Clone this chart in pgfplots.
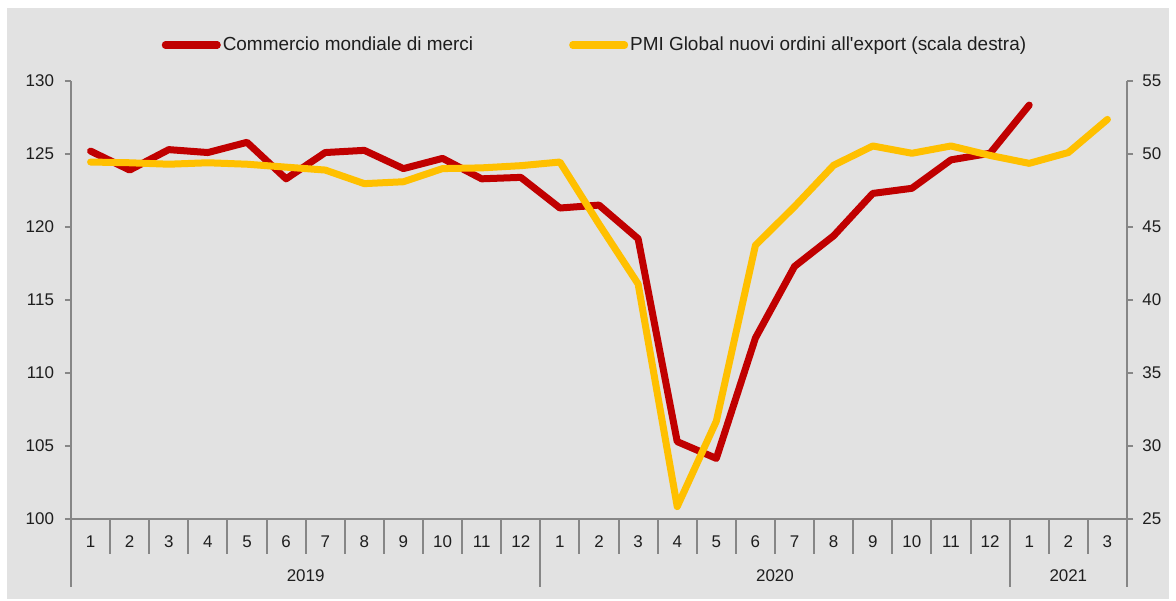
\documentclass[border=0pt]{standalone}
\usepackage{pgfplots}
\pgfplotsset{compat=1.18}
\usepackage{fontspec}
\setmainfont{Liberation Sans}
\definecolor{bg}{HTML}{E2E2E2}
\definecolor{axg}{HTML}{868686}
\definecolor{myred}{HTML}{C00000}
\definecolor{myyel}{HTML}{FFC000}
\definecolor{txt}{HTML}{1E1E1E}
\begin{document}
\begin{tikzpicture}
\fill[white] (-35.5bp,-41bp) rectangle (552.5bp,259.5bp);
\fill[bg] (-32bp,-40bp) rectangle (549bp,255.5bp);
\pgfplotsset{
  common/.style={
    scale only axis, width=528bp, height=219bp,
    at={(0,0)}, anchor=south west,
    xmin=0.5, xmax=27.5,
    axis line style={axg, line width=1bp},
    tick align=outside, major tick length=3bp,
    tick style={axg, line width=1bp},
    ticklabel style={font=\fontsize{8.5}{10}\selectfont, text=txt},
    /pgf/number format/assume math mode=true,
    clip=false,
  }
}
\begin{axis}[common,
  axis x line*=bottom, axis y line*=left,
  ymin=100, ymax=130, ytick={100,105,...,130},
  yticklabel style={xshift=-2bp},
  xtick={1,...,27},
  xticklabels={1,2,3,4,5,6,7,8,9,10,11,12,1,2,3,4,5,6,7,8,9,10,11,12,1,2,3},
  major x tick style={draw=none},
  xticklabel style={yshift=-1.7bp},
]
\pgfplotsinvokeforeach{1.5,2.5,3.5,4.5,5.5,6.5,7.5,8.5,9.5,10.5,11.5,13.5,14.5,15.5,16.5,17.5,18.5,19.5,20.5,21.5,22.5,23.5,25.5,26.5}{
  \draw[axg, line width=1bp] (axis cs:#1,100) -- ([yshift=-17.5bp]axis cs:#1,100);
}
\pgfplotsinvokeforeach{0.5,12.5,24.5,27.5}{
  \draw[axg, line width=1bp] (axis cs:#1,100) -- ([yshift=-34bp]axis cs:#1,100);
}
\node[font=\fontsize{8.5}{10}\selectfont, text=txt, yshift=-28.5bp] at (axis cs:6.5,100) {2019};
\node[font=\fontsize{8.5}{10}\selectfont, text=txt, yshift=-28.5bp] at (axis cs:18.5,100) {2020};
\node[font=\fontsize{8.5}{10}\selectfont, text=txt, yshift=-28.5bp] at (axis cs:26,100) {2021};
\addplot[myred, line width=3.5bp, line join=round, line cap=round] coordinates {
(1,125.2) (2,123.9) (3,125.3) (4,125.1) (5,125.8) (6,123.3) (7,125.1) (8,125.25)
(9,124.0) (10,124.7) (11,123.3) (12,123.4) (13,121.3) (14,121.5) (15,119.2)
(16,105.3) (17,104.15) (18,112.4) (19,117.3) (20,119.4) (21,122.3) (22,122.65)
(23,124.6) (24,125.05) (25,128.35)
};
\end{axis}
\begin{axis}[common,
  axis x line=none, axis y line*=right,
  ymin=25, ymax=55, ytick={25,30,...,55},
  yticklabel style={xshift=1.2bp},
  legend columns=2,
  legend style={at={(0.5,1)}, anchor=center, yshift=18bp, xshift=-2bp, draw=none, fill=none,
    font=\fontsize{9.5}{11}\selectfont, text=txt,
    /tikz/every even column/.append style={column sep=47bp},
    nodes={inner xsep=1bp, inner ysep=2bp}},
  legend image code/.code={\draw[#1, line cap=round] (0bp,0bp) -- (26bp,0bp);},
]
\addlegendimage{myred, line width=3.5bp}
\addlegendentry{Commercio mondiale di merci}
\addplot[myyel, line width=3.5bp, line join=round, line cap=round] coordinates {
(1,49.45) (2,49.4) (3,49.3) (4,49.4) (5,49.3) (6,49.1) (7,48.9) (8,47.97)
(9,48.1) (10,49.0) (11,49.05) (12,49.2) (13,49.45) (14,45.2) (15,41.1)
(16,25.85) (17,31.7) (18,43.75) (19,46.4) (20,49.23) (21,50.55) (22,50.05)
(23,50.55) (24,49.9) (25,49.36) (26,50.1) (27,52.37)
};
\addlegendentry{PMI Global nuovi ordini all\textquotesingle export (scala destra)}
\end{axis}
\end{tikzpicture}
\end{document}
